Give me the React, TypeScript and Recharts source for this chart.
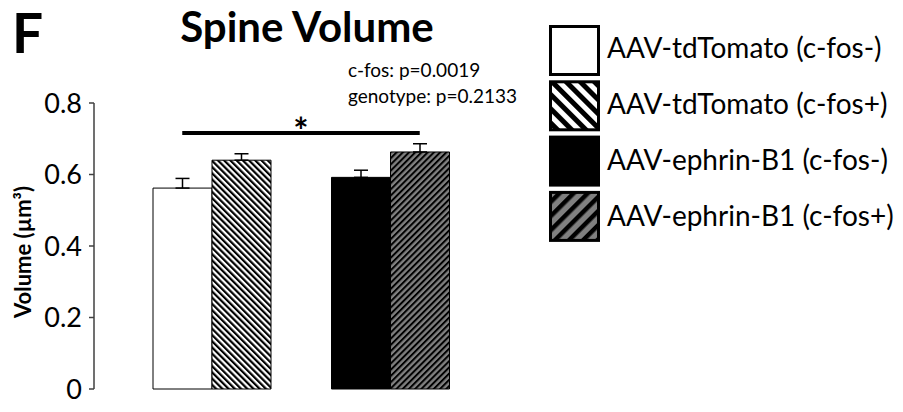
import { Bar, BarChart, Cell, ErrorBar, ReferenceLine, XAxis, YAxis } from "recharts";

const groups = ["AAV-tdTomato", "AAV-ephrin-B1"];
const fosNeg = [0.562, 0.592];
const fosPos = [0.64, 0.663];
const fosNegSem = [0.027, 0.02];
const fosPosSem = [0.018, 0.023];
const yTicks = [0, 0.2, 0.4, 0.6, 0.8];
const negFills = ["#ffffff", "#000000"];
const posFills = ["url(#hatchW)", "url(#hatchG)"];
const legendLabels = ["AAV-tdTomato (c-fos-)", "AAV-tdTomato (c-fos+)", "AAV-ephrin-B1 (c-fos-)", "AAV-ephrin-B1 (c-fos+)"];
const legendFills = ["#ffffff", "url(#hatchWL)", "#000000", "url(#hatchGL)"];
const statLines = ["c-fos: p=0.0019", "genotype: p=0.2133"];
const sigLevel = 0.716;

const data = groups.map((g, i) => ({
  group: g,
  neg: fosNeg[i],
  pos: fosPos[i],
  negErr: [0, fosNegSem[i]],
  posErr: [0, fosPosSem[i]],
}));

const FONT = "Lato, 'Open Sans', sans-serif";

function SigShape(p: any) {
  const x1 = p.x1 - 30, x2 = p.x2 + 29;
  return (
    <g>
      <line x1={x1} x2={x2} y1={p.y1} y2={p.y2} stroke="#000" strokeWidth={4} />
      <text x={(x1 + x2) / 2} y={p.y1 + 11} textAnchor="middle" fontFamily={FONT} fontSize={36} fontWeight={700} fill="#000">*</text>
    </g>
  );
}

export default function App() {
  return (
    <div style={{ position: "absolute", left: 0, top: 0, width: 903, height: 412, background: "#fff" }}>
      <BarChart width={903} height={412} data={data} margin={{ top: 103, right: 393, bottom: 23, left: 0 }} barGap={0} barSize={59}>
        <defs>
          <pattern id="hatchW" patternUnits="userSpaceOnUse" width={4.4} height={4.4} patternTransform="rotate(-45)">
            <rect width={4.4} height={4.4} fill="#fff" />
            <rect width={2.2} height={4.4} fill="#000" />
          </pattern>
          <pattern id="hatchG" patternUnits="userSpaceOnUse" width={4.4} height={4.4} patternTransform="rotate(45)">
            <rect width={4.4} height={4.4} fill="#808080" />
            <rect width={2} height={4.4} fill="#000" />
          </pattern>
          <pattern id="hatchWL" patternUnits="userSpaceOnUse" width={10} height={10} patternTransform="rotate(-45)">
            <rect width={10} height={10} fill="#fff" />
            <rect width={5} height={10} fill="#000" />
          </pattern>
          <pattern id="hatchGL" patternUnits="userSpaceOnUse" width={10} height={10} patternTransform="rotate(45)">
            <rect width={10} height={10} fill="#808080" />
            <rect width={4.5} height={10} fill="#000" />
          </pattern>
        </defs>
        <XAxis dataKey="group" tick={false} tickLine={false} height={0} padding={{ left: 29, right: 30 }} axisLine={{ stroke: "#404040", strokeWidth: 1.5 }} />
        <YAxis
          width={94}
          domain={[0, 0.8]}
          ticks={yTicks}
          tickFormatter={(v: number) => (v === 0 ? "0" : v.toFixed(1))}
          tickSize={5}
          tickMargin={7}
          axisLine={{ stroke: "#404040", strokeWidth: 1.5 }}
          tickLine={{ stroke: "#404040", strokeWidth: 1.5 }}
          tick={{ fontFamily: FONT, fontSize: 27, fill: "#000" }}
        />
        <Bar dataKey="neg" stroke="#000" strokeWidth={1} isAnimationActive={false}>
          {data.map((d, i) => <Cell key={d.group} fill={negFills[i]} />)}
          <ErrorBar dataKey="negErr" width={7} stroke="#000" strokeWidth={1.5} />
        </Bar>
        <Bar dataKey="pos" stroke="#000" strokeWidth={1} isAnimationActive={false}>
          {data.map((d, i) => <Cell key={d.group} fill={posFills[i]} />)}
          <ErrorBar dataKey="posErr" width={7} stroke="#000" strokeWidth={1.5} />
        </Bar>
        <ReferenceLine segment={[{ x: groups[0], y: sigLevel }, { x: groups[1], y: sigLevel }]} shape={SigShape} />
      </BarChart>
      <svg width={903} height={412} style={{ position: "absolute", left: 0, top: 0, pointerEvents: "none" }} fontFamily={FONT}>
        <text x={12} y={53} fontSize={55} fontWeight={700}>F</text>
        <text x={307} y={42} fontSize={42} fontWeight={700} textAnchor="middle">Spine Volume</text>
        {statLines.map((s, i) => (
          <text key={s} x={348} y={77 + i * 26} fontSize={19}>{s}</text>
        ))}
        <text transform="translate(31,252) rotate(-90)" textAnchor="middle" fontSize={22} fontWeight={700}>Volume (µm³)</text>
        {legendLabels.map((l, i) => (
          <g key={l}>
            <rect x={550.5} y={26.5 + i * 55.3} width={48} height={48} fill={legendFills[i]} stroke="#000" strokeWidth={3} />
            <text x={607} y={58 + i * 56} fontSize={28}>{l}</text>
          </g>
        ))}
      </svg>
    </div>
  );
}
